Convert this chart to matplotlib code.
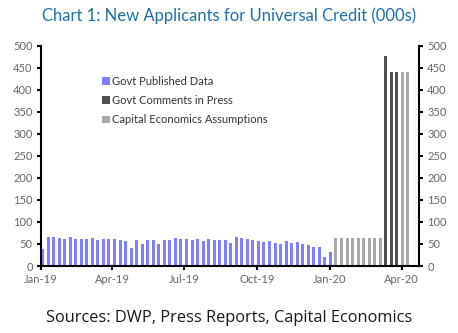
import pandas as pd
import matplotlib
matplotlib.use("Agg")
import matplotlib.pyplot as plt

# weekly new applicants (000s)
published_start = "2019-01-03"
published_vals = [38, 65, 67, 63, 61, 67, 61, 61, 61, 63, 58, 61, 61, 61, 58, 56, 42,
                  58, 50, 59, 59, 50, 58, 58, 63, 61, 61, 58, 61, 56, 61, 58, 58, 58,
                  52, 65, 63, 61, 58, 56, 54, 56, 52, 49, 56, 52, 54, 50, 48, 43, 43,
                  20, 32]
assumed_early_start = "2020-01-09"
assumed_early_vals = [63, 63, 63, 63, 63, 63, 63, 63, 63]
press_start = "2020-03-12"
press_vals = [477, 440, 440]
assumed_late_start = "2020-04-02"
assumed_late_vals = [440, 440]

labels = ["Govt Published Data", "Govt Comments in Press", "Capital Economics Assumptions"]
tick_labels = ["Jan-19", "Apr-19", "Jul-19", "Oct-19", "Jan-20", "Apr-20"]
tick_dates = ["2019-01-01", "2019-04-01", "2019-07-01", "2019-10-01", "2020-01-01", "2020-04-01"]

blue = "#8080ff"
dark = "#505050"
light = "#a8a8a8"
text_grey = "#666666"

pub_dates = pd.date_range(published_start, periods=len(published_vals), freq="7D")
early_dates = pd.date_range(assumed_early_start, periods=len(assumed_early_vals), freq="7D")
press_dates = pd.date_range(press_start, periods=len(press_vals), freq="7D")
late_dates = pd.date_range(assumed_late_start, periods=len(assumed_late_vals), freq="7D")

fig = plt.figure(figsize=(4.58, 3.33), dpi=100)
ax = fig.add_axes([0.0895, 0.2012, 0.8253, 0.6607])

w = 3.8
ax.bar(pub_dates, published_vals, width=w, color=blue, label=labels[0])
ax.bar(press_dates, press_vals, width=w, color=dark, label=labels[1])
ax.bar(early_dates, assumed_early_vals, width=w, color=light, label=labels[2])
ax.bar(late_dates, assumed_late_vals, width=w, color=light)

ax.set_xlim(pd.Timestamp("2019-01-01"), pd.Timestamp("2020-04-23"))
ax.set_ylim(0, 500)
ax.set_yticks(range(0, 501, 50))
ax.set_xticks(pd.to_datetime(tick_dates))
ax.set_xticklabels(tick_labels)

ax.spines["top"].set_visible(False)
for s in ["left", "right", "bottom"]:
    ax.spines[s].set_linewidth(1.5)
ax.tick_params(axis="y", right=True, labelright=True, direction="out", length=3,
               width=1.5, labelsize=8, labelcolor=text_grey, pad=3)
ax.tick_params(axis="x", direction="out", length=3, width=1.5, labelsize=8,
               labelcolor=text_grey, pad=3)
for t in ax.get_xticklabels() + ax.get_yticklabels():
    t.set_family("Lato")

leg = ax.legend(loc="upper left", bbox_to_anchor=(0.135, 0.91), frameon=False,
                handlelength=0.7, handleheight=0.7, handletextpad=0.2,
                labelspacing=0.75, prop={"family": "Lato", "size": 8})
for t in leg.get_texts():
    t.set_color("#333333")

fig.text(0.5, 0.952, "Chart 1: New Applicants for Universal Credit (000s)",
         ha="center", va="center", color="#1f6fa8", fontsize=12, family="Lato")
fig.text(0.5, 0.045, "Sources: DWP, Press Reports, Capital Economics",
         ha="center", va="center", color="#1a1a1a", fontsize=11.8, family="Open Sans")

fig.savefig("out.png", dpi=100)
